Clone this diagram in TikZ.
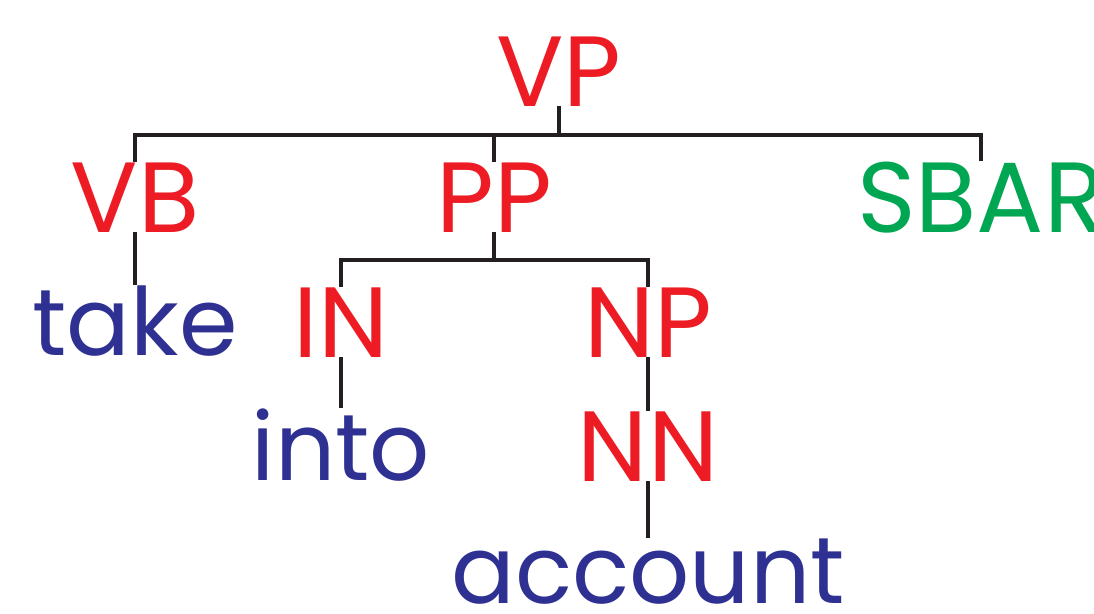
\documentclass[tikz,border=0pt]{standalone}
\usepackage{fontspec}
\setmainfont{Poppins}
\definecolor{catred}{RGB}{237,28,36}
\definecolor{wordblue}{RGB}{46,49,146}
\definecolor{clausegreen}{RGB}{0,166,81}
\definecolor{inkblack}{RGB}{35,31,32}
\begin{document}
\begin{tikzpicture}[x=0.025cm,y=-0.025cm,
  treelabel/.style={inner sep=0pt,anchor=base,font=\fontsize{71}{80}\selectfont},
  phrase/.style={treelabel,text=catred},
  word/.style={treelabel,text=wordblue,font=\fontsize{67}{76}\selectfont},
  branch/.style={draw=inkblack,line width=2.8pt}]
\useasboundingbox (0,0) rectangle (1094,613);
% categories
\node[phrase] (VP) at (559,106) {VP};
\node[phrase] (VB) at (135,232) {VB};
\node[phrase] (PP) at (494,232) {PP};
\node[treelabel,text=clausegreen] (SBAR) at (981,232) {SBAR};
\node[phrase] (IN) at (341,357) {IN};
\node[phrase] (NP) at (648,357) {NP};
\node[phrase] (NN) at (648,481) {NN};
% words
\node[word] (take) at (135,355) {take};
\node[word] (into) at (341,480) {into};
\node[word] (account) at (648,603) {account};
% branches
\draw[branch] (VP.south) -- ++(0,29) coordinate (vpbar);
\draw[branch] (VB.north) |- (vpbar) -| (SBAR.north);
\draw[branch] (PP.north) -- (PP.north |- vpbar);
\draw[branch] (PP.south) -- ++(0,28) coordinate (ppbar);
\draw[branch] (IN.north) |- (ppbar) -| (NP.north);
\draw[branch] (VB.south) -- (take.north);
\draw[branch] (IN.south) -- (into.north);
\draw[branch] (NP.south) -- (NN.north);
\draw[branch] (NN.south) -- (account.north);
\end{tikzpicture}
\end{document}
